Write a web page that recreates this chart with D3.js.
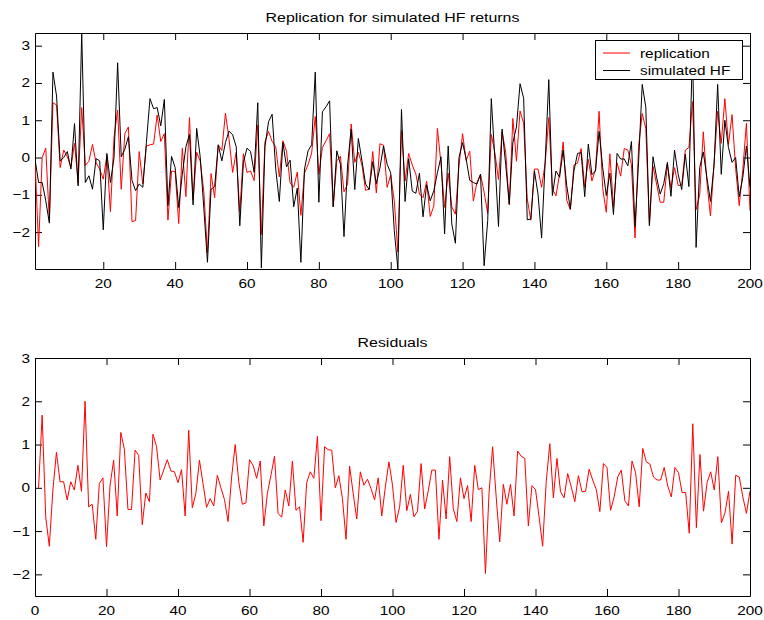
<!DOCTYPE html>
<html><head><meta charset="utf-8">
<script src="https://cdn.jsdelivr.net/npm/d3@7"></script>
<style>
body{margin:0;background:#fff}
text{font-family:"Liberation Sans",Arial,Helvetica,sans-serif;fill:#000}
</style>
</head><body><svg id="c" width="764" height="620"></svg>
<script>
const replication = [
-0.05,-2.39,0.0,0.25,-1.71,1.47,1.41,-0.27,0.2,0.02,
-0.26,0.38,-0.68,1.34,-0.21,-0.1,0.35,-0.14,-0.31,-0.58,
0.05,-1.45,0.55,1.27,-0.85,0.64,0.82,-1.72,-1.69,0.16,
-0.71,0.31,0.34,0.36,1.14,0.43,0.64,-1.68,-0.36,-0.38,
-1.77,0.25,-1.05,1.07,-1.14,0.14,-0.1,-0.93,-2.56,-0.43,
-1.08,0.34,0.19,1.19,0.5,-0.4,0.14,-1.45,0.1,-0.4,
-0.36,-0.62,0.87,-2.07,0.42,0.7,0.43,0.29,-0.52,0.45,
0.17,-0.68,-0.8,-0.39,-1.55,-0.42,-0.19,0.12,1.1,-0.45,
0.27,0.45,0.64,-1.32,-0.09,0.03,-0.92,-0.72,0.9,-0.13,
0.14,-0.2,-0.88,-0.85,0.16,-0.95,0.37,0.33,-0.8,-0.47,
-1.16,-2.53,0.72,-0.63,0.11,-0.2,-0.44,-0.98,-1.08,-0.64,
-1.58,-1.3,0.78,-0.17,-1.34,-0.42,-1.32,-1.52,-0.22,0.64,
-0.08,0.17,-1.17,-0.67,-0.45,-0.93,-1.5,0.62,0.12,-0.59,
0.69,0.15,-1.27,1.05,-0.1,1.25,0.92,-1.1,-1.68,-0.31,
-0.31,-0.8,-0.15,1.07,-0.84,-1.03,-0.44,0.42,-1.15,-1.4,
-0.2,-0.15,0.24,-0.8,-0.05,-0.63,-0.32,1.24,-0.83,-1.47,
0.1,-1.33,-0.14,-0.5,0.24,0.2,-0.19,-2.16,0.3,1.18,
0.78,-1.8,-0.23,-0.71,-1.2,-1.2,-0.17,-0.82,-0.27,-0.75,
-0.74,0.2,0.27,1.5,-1.4,-1.0,0.69,-0.65,-1.57,-0.15,
1.24,0.38,1.58,0.35,1.15,-0.29,-1.29,-0.32,0.92,-1.43];

const simulatedHF = [
-0.04,-0.67,-0.67,-1.16,-1.76,2.29,1.65,-0.09,0.0,0.16,
-0.31,0.91,-0.76,3.34,-0.67,-0.49,-0.85,-0.03,-0.09,-1.94,
0.11,-0.67,0.0,2.54,0.02,0.22,0.56,-0.61,-0.89,-0.71,
-0.8,0.4,1.58,1.31,1.34,0.85,1.56,-1.29,0.03,-0.27,
-1.34,-0.45,0.29,0.62,-1.27,0.78,0.0,-1.38,-2.81,-0.85,
-0.78,0.34,-0.09,0.4,0.71,0.61,0.29,-1.83,-0.13,0.25,
0.16,-0.4,1.47,-2.96,0.29,0.96,1.16,-0.31,-1.18,0.4,
-0.25,-0.07,-1.32,-0.82,-2.81,-0.31,0.18,0.34,2.29,-1.2,
1.23,1.36,1.52,-1.32,0.18,-0.18,-2.12,-0.2,0.76,-0.86,
0.51,-0.09,-0.71,-0.86,-0.11,-0.7,-0.28,0.31,-0.18,-0.41,
-1.96,-2.99,1.29,-1.18,-0.03,-0.9,-0.96,-0.42,-1.59,-0.73,
-1.16,-0.89,-0.41,0.02,-2.05,0.31,-1.78,-2.3,0.0,0.4,
-0.04,-0.61,-0.67,-0.71,-0.45,-2.9,-1.69,1.58,-0.04,-1.85,
0.76,-0.18,-1.25,0.4,0.82,1.98,1.59,-1.67,-1.65,-0.36,
-0.98,-2.16,-0.09,2.09,-1.02,-0.36,-0.53,0.2,-0.76,-1.38,
-0.36,0.11,0.13,-1.05,0.36,-0.46,-0.36,0.7,-0.27,-1.02,
-0.42,-1.53,0.11,-0.04,-0.04,-0.22,0.43,-1.85,-0.1,1.96,
1.35,-1.83,0.02,-0.53,-0.98,-0.7,-0.13,-1.04,0.2,-0.45,
-0.86,0.09,-0.78,2.94,-2.41,-0.27,0.15,-0.53,-1.18,-0.2,
1.96,-0.45,1.0,0.27,-0.13,0.0,-1.05,-0.53,0.31,-0.8];

const residuals = [
0.0,1.68,-0.67,-1.35,-0.05,0.82,0.14,0.14,-0.28,0.14,
-0.05,0.52,-0.08,2.0,-0.44,-0.38,-1.19,0.1,0.23,-1.36,
0.06,0.64,-0.65,1.28,0.89,-0.5,-0.5,0.87,0.75,-0.85,
-0.12,-0.32,1.24,0.95,0.18,0.41,0.65,0.39,0.37,0.12,
0.42,-0.65,1.33,-0.46,-0.13,0.64,0.1,-0.45,-0.25,-0.42,
0.29,0.0,-0.27,-0.78,0.25,1.0,0.14,-0.38,-0.35,0.65,
0.52,0.22,0.62,-0.88,-0.13,0.29,0.73,-0.59,-0.68,-0.05,
-0.42,0.62,-0.52,-0.44,-1.26,0.12,0.37,0.22,1.19,-0.76,
0.95,0.88,0.87,0.0,0.28,-0.25,-1.19,0.5,-0.13,-0.72,
0.37,0.06,0.2,-0.02,-0.28,0.23,-0.65,0.02,0.6,0.06,
-0.8,-0.44,0.52,-0.53,-0.15,-0.67,-0.54,0.56,-0.49,-0.07,
0.41,0.41,-1.19,0.18,-0.72,0.72,-0.48,-0.78,0.23,-0.25,
0.05,-0.78,0.52,-0.04,0.0,-1.98,-0.13,0.95,-0.21,-1.25,
0.08,-0.38,0.08,-0.65,0.85,0.73,0.68,-0.88,0.05,-0.04,
-0.67,-1.35,0.14,1.02,-0.23,0.68,-0.09,-0.23,0.33,0.02,
-0.32,0.28,-0.09,-0.08,0.43,0.18,-0.04,-0.55,0.56,0.47,
-0.52,-0.21,0.25,0.41,-0.3,-0.42,0.62,0.35,-0.44,0.91,
0.6,0.55,0.25,0.18,0.18,0.47,0.04,-0.21,0.47,0.35,
-0.11,-0.11,-1.05,1.48,-0.92,0.77,-0.54,0.12,0.37,-0.05,
0.72,-0.81,-0.58,-0.08,-1.3,0.29,0.25,-0.21,-0.59,-0.08];

const periods = d3.range(1, replication.length + 1);
const topXTicks = [20,40,60,80,100,120,140,160,180,200];
const topYTicks = [-2,-1,0,1,2,3];
const botXTicks = [0,20,40,60,80,100,120,140,160,180,200];
const botYTicks = [-2,-1,0,1,2,3];
const botYDomain = [-2.5, 3];
const titles = ["Replication for simulated HF returns", "Residuals"];
const legendLabels = ["replication", "simulated HF"];
const colors = {replication: "#ff0000", hf: "#000000", residuals: "#ff0000"};

const svg = d3.select("#c");
const SX = 1.18, FS = 13;
function label(g, x, y, s, anchor, size) {
  g.append("text")
    .attr("transform", `translate(${x},${y}) scale(${SX},1)`)
    .attr("text-anchor", anchor)
    .style("font-size", (size || FS) + "px")
    .text(s);
}

function panel(box, xDomain, yDomain, xTicks, yTicks, title, id) {
  const x = d3.scaleLinear().domain(xDomain).range([box.l, box.r]);
  const y = d3.scaleLinear().domain(yDomain).range([box.b, box.t]);
  const g = svg.append("g");
  g.append("clipPath").attr("id", id).append("rect")
    .attr("x", box.l).attr("y", box.t).attr("width", box.r - box.l).attr("height", box.b - box.t);
  const tk = 7;
  const axes = [
    [d3.axisBottom(x).tickValues(xTicks), `translate(0,${box.b})`],
    [d3.axisTop(x).tickValues(xTicks), `translate(0,${box.t})`],
    [d3.axisLeft(y).tickValues(yTicks), `translate(${box.l},0)`],
    [d3.axisRight(y).tickValues(yTicks), `translate(${box.r},0)`]
  ];
  axes.forEach(([a, tr]) => {
    const ag = g.append("g").attr("transform", tr)
      .call(a.tickSizeInner(-tk).tickSizeOuter(0).tickFormat(""));
    ag.selectAll("path,line").attr("stroke", "#000").attr("stroke-width", 1);
    ag.selectAll("text").remove();
  });
  xTicks.forEach(v => label(g, x(v), box.b + 19, String(v), "middle"));
  yTicks.forEach(v => label(g, box.l - 5, y(v) + 4.5, v < 0 ? "\u2212" + Math.abs(v) : String(v), "end"));
  label(g, (box.l + box.r) / 2, box.t - 11, title, "middle", 13.5);
  return {x, y, g};
}

// top panel
const topDom = d3.extent(replication.concat(simulatedHF));
const P1 = panel({l: 35, r: 750, t: 33, b: 269}, [1, 200], topDom, topXTicks, topYTicks, titles[0], "clip1");
const line1 = d3.line().x((d, i) => P1.x(periods[i])).y(d => P1.y(d));
const lg1 = P1.g.append("g").attr("clip-path", "url(#clip1)");
lg1.append("path").datum(replication).attr("d", line1)
  .attr("fill", "none").attr("stroke", colors.replication).attr("stroke-width", 1);
lg1.append("path").datum(simulatedHF).attr("d", line1)
  .attr("fill", "none").attr("stroke", colors.hf).attr("stroke-width", 1);

// legend
const lgd = P1.g.append("g");
lgd.append("rect").attr("x", 595.5).attr("y", 40.5).attr("width", 147).attr("height", 39)
  .attr("fill", "#fff").attr("stroke", "#000").attr("stroke-width", 1);
[colors.replication, colors.hf].forEach((c, i) => {
  const yy = 53 + i * 17.5;
  lgd.append("line").attr("x1", 603).attr("x2", 630).attr("y1", yy).attr("y2", yy)
    .attr("stroke", c).attr("stroke-width", 1);
  label(lgd, 640, yy + 4.5, legendLabels[i], "start");
});

// bottom panel
const P2 = panel({l: 35, r: 750, t: 358, b: 596}, [0, 200], botYDomain, botXTicks, botYTicks, titles[1], "clip2");
const line2 = d3.line().x((d, i) => P2.x(periods[i])).y(d => P2.y(d));
P2.g.append("g").attr("clip-path", "url(#clip2)")
  .append("path").datum(residuals).attr("d", line2)
  .attr("fill", "none").attr("stroke", colors.residuals).attr("stroke-width", 1);
</script>
</body></html>
